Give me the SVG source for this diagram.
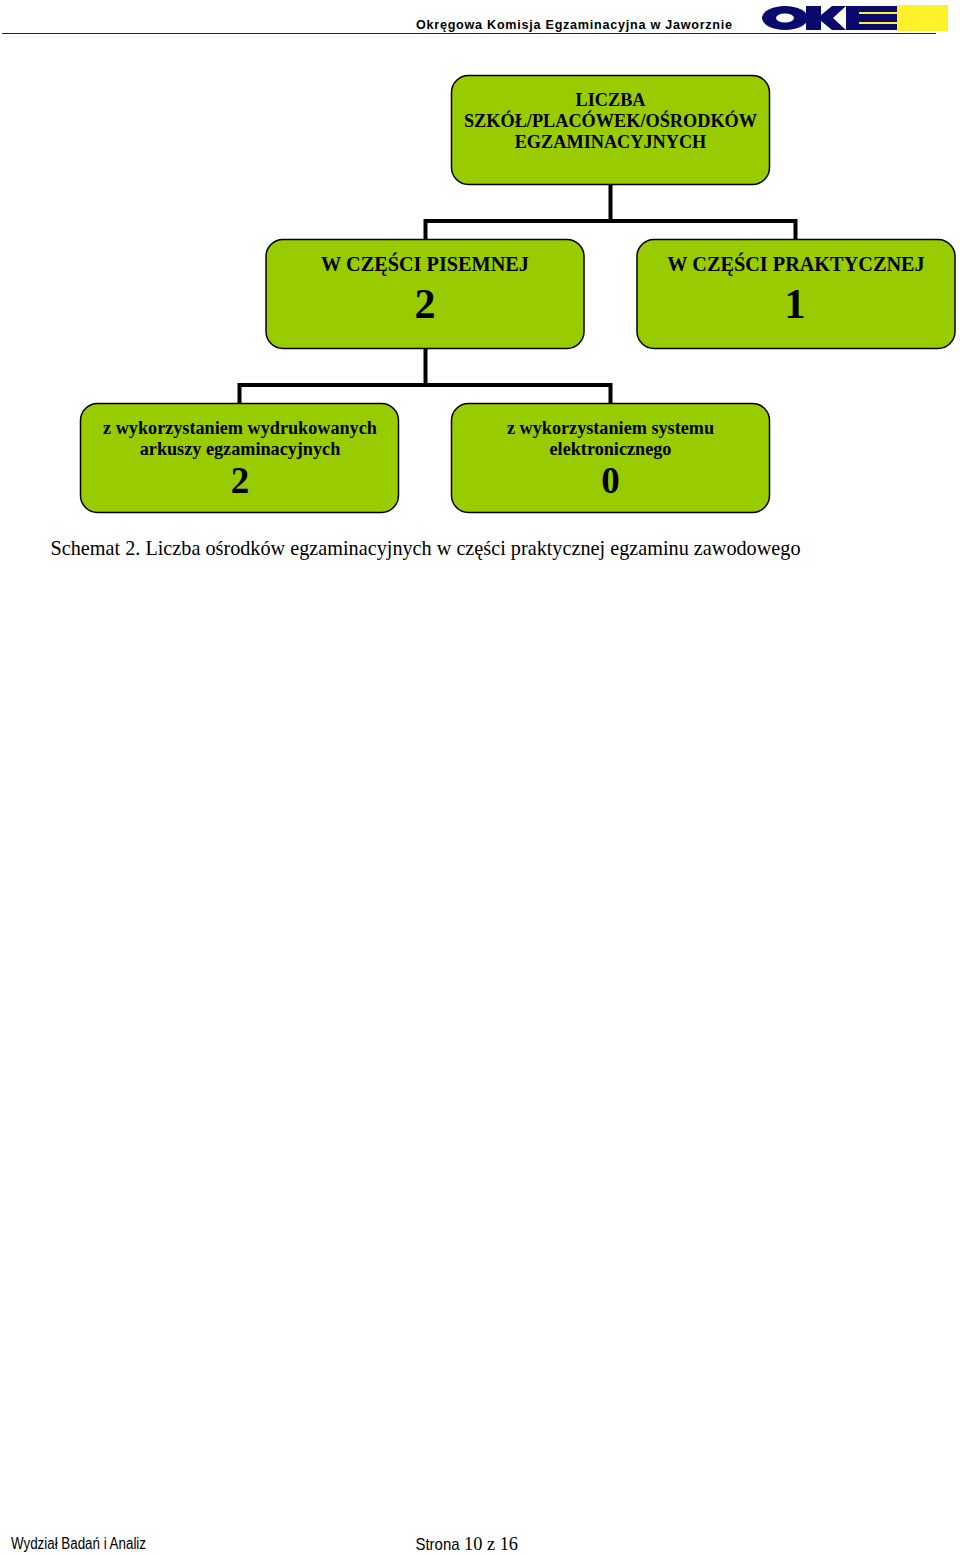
<svg xmlns="http://www.w3.org/2000/svg" width="960" height="1554" viewBox="0 0 960 1554">
<style>
.box{fill:#99cc00;stroke:#000;stroke-width:1.5}
.c{fill:none;stroke:#000;stroke-width:4}
text{font-family:"Liberation Serif","Times New Roman",serif;fill:#000}
.b{font-weight:bold;text-anchor:middle}
.t1{font-size:18.25px}
.t2{font-size:20.25px}
.t3{font-size:18.2px}
.n{font-size:42px}
.n2{font-size:37px}
.s{font-size:20.4px}
</style>
<rect width="960" height="1554" fill="#fff"/>
<g id="header">
<line x1="2" y1="33.5" x2="936" y2="33.5" stroke="#222" stroke-width="1"/>
<text x="416" y="29" style="font-family:'Liberation Sans',Arial,sans-serif;font-weight:bold;font-size:12.6px" textLength="316" lengthAdjust="spacing">Okręgowa Komisja Egzaminacyjna w Jaworznie</text>
</g>
<g id="logo">
<rect x="897" y="5" width="51" height="26" fill="#fff22a"/>
<ellipse cx="785" cy="18" rx="23" ry="12" fill="#0a0a6e"/>
<ellipse cx="785" cy="18" rx="9" ry="4.500" fill="#fff"/>
<path d="M806 6h15v9l11-9h14l-13 12 13 12h-14l-11-9v9h-15z" fill="#0a0a6e"/>
<path d="M846 6h51v24h-51z" fill="#0a0a6e"/>
<path d="M859 12h38v2h-38zM859 22h38v2h-38z" fill="#fff22a"/>
</g>
<g id="connectors">
<path class="c" d="M610.500 185V221M425.500 239V221H795.500V239"/>
<path class="c" d="M425.500 349V385M239.500 403V385H610.500V403"/>
</g>
<g id="n-root">
<rect class="box" x="451.500" y="75.500" width="318" height="109" rx="17"/>
<text class="b t1" x="610.500" y="106">LICZBA</text>
<text class="b t1" x="610.500" y="127">SZKÓŁ/PLACÓWEK/OŚRODKÓW</text>
<text class="b t1" x="610.500" y="148">EGZAMINACYJNYCH</text>
</g>
<g id="n-pisemna">
<rect class="box" x="266" y="239.500" width="318" height="109" rx="17"/>
<text class="b t2" x="425" y="271">W CZĘŚCI PISEMNEJ</text>
<text class="b n" x="425" y="318">2</text>
</g>
<g id="n-praktyczna">
<rect class="box" x="637" y="239.500" width="318" height="109" rx="17"/>
<text class="b t2" x="796" y="271">W CZĘŚCI PRAKTYCZNEJ</text>
<text class="b n" x="795" y="318">1</text>
</g>
<g id="n-arkusze">
<rect class="box" x="80.500" y="403.500" width="318" height="109" rx="17"/>
<text class="b t3" x="240" y="434">z wykorzystaniem wydrukowanych</text>
<text class="b t3" x="240" y="455">arkuszy egzaminacyjnych</text>
<text class="b n2" x="240" y="493">2</text>
</g>
<g id="n-elektroniczny">
<rect class="box" x="451.500" y="403.500" width="318" height="109" rx="17"/>
<text class="b t3" x="610.500" y="434">z wykorzystaniem systemu</text>
<text class="b t3" x="610.500" y="455">elektronicznego</text>
<text class="b n2" x="610.500" y="493">0</text>
</g>
<g id="caption">
<text class="s" x="50.500" y="555" textLength="750" lengthAdjust="spacingAndGlyphs">Schemat 2. Liczba ośrodków egzaminacyjnych w części praktycznej egzaminu zawodowego</text>
</g>
<g id="footer">
<text x="11" y="1549" style="font-family:'Liberation Sans',Arial,sans-serif;font-size:16px" textLength="135" lengthAdjust="spacingAndGlyphs">Wydział Badań i Analiz</text>
<text x="415.500" y="1550" style="font-family:'Liberation Sans',Arial,sans-serif;font-size:17px" textLength="44" lengthAdjust="spacingAndGlyphs">Strona</text>
<text x="464" y="1550" style="font-size:18.500px" textLength="54" lengthAdjust="spacingAndGlyphs">10 z 16</text>
</g>
</svg>
